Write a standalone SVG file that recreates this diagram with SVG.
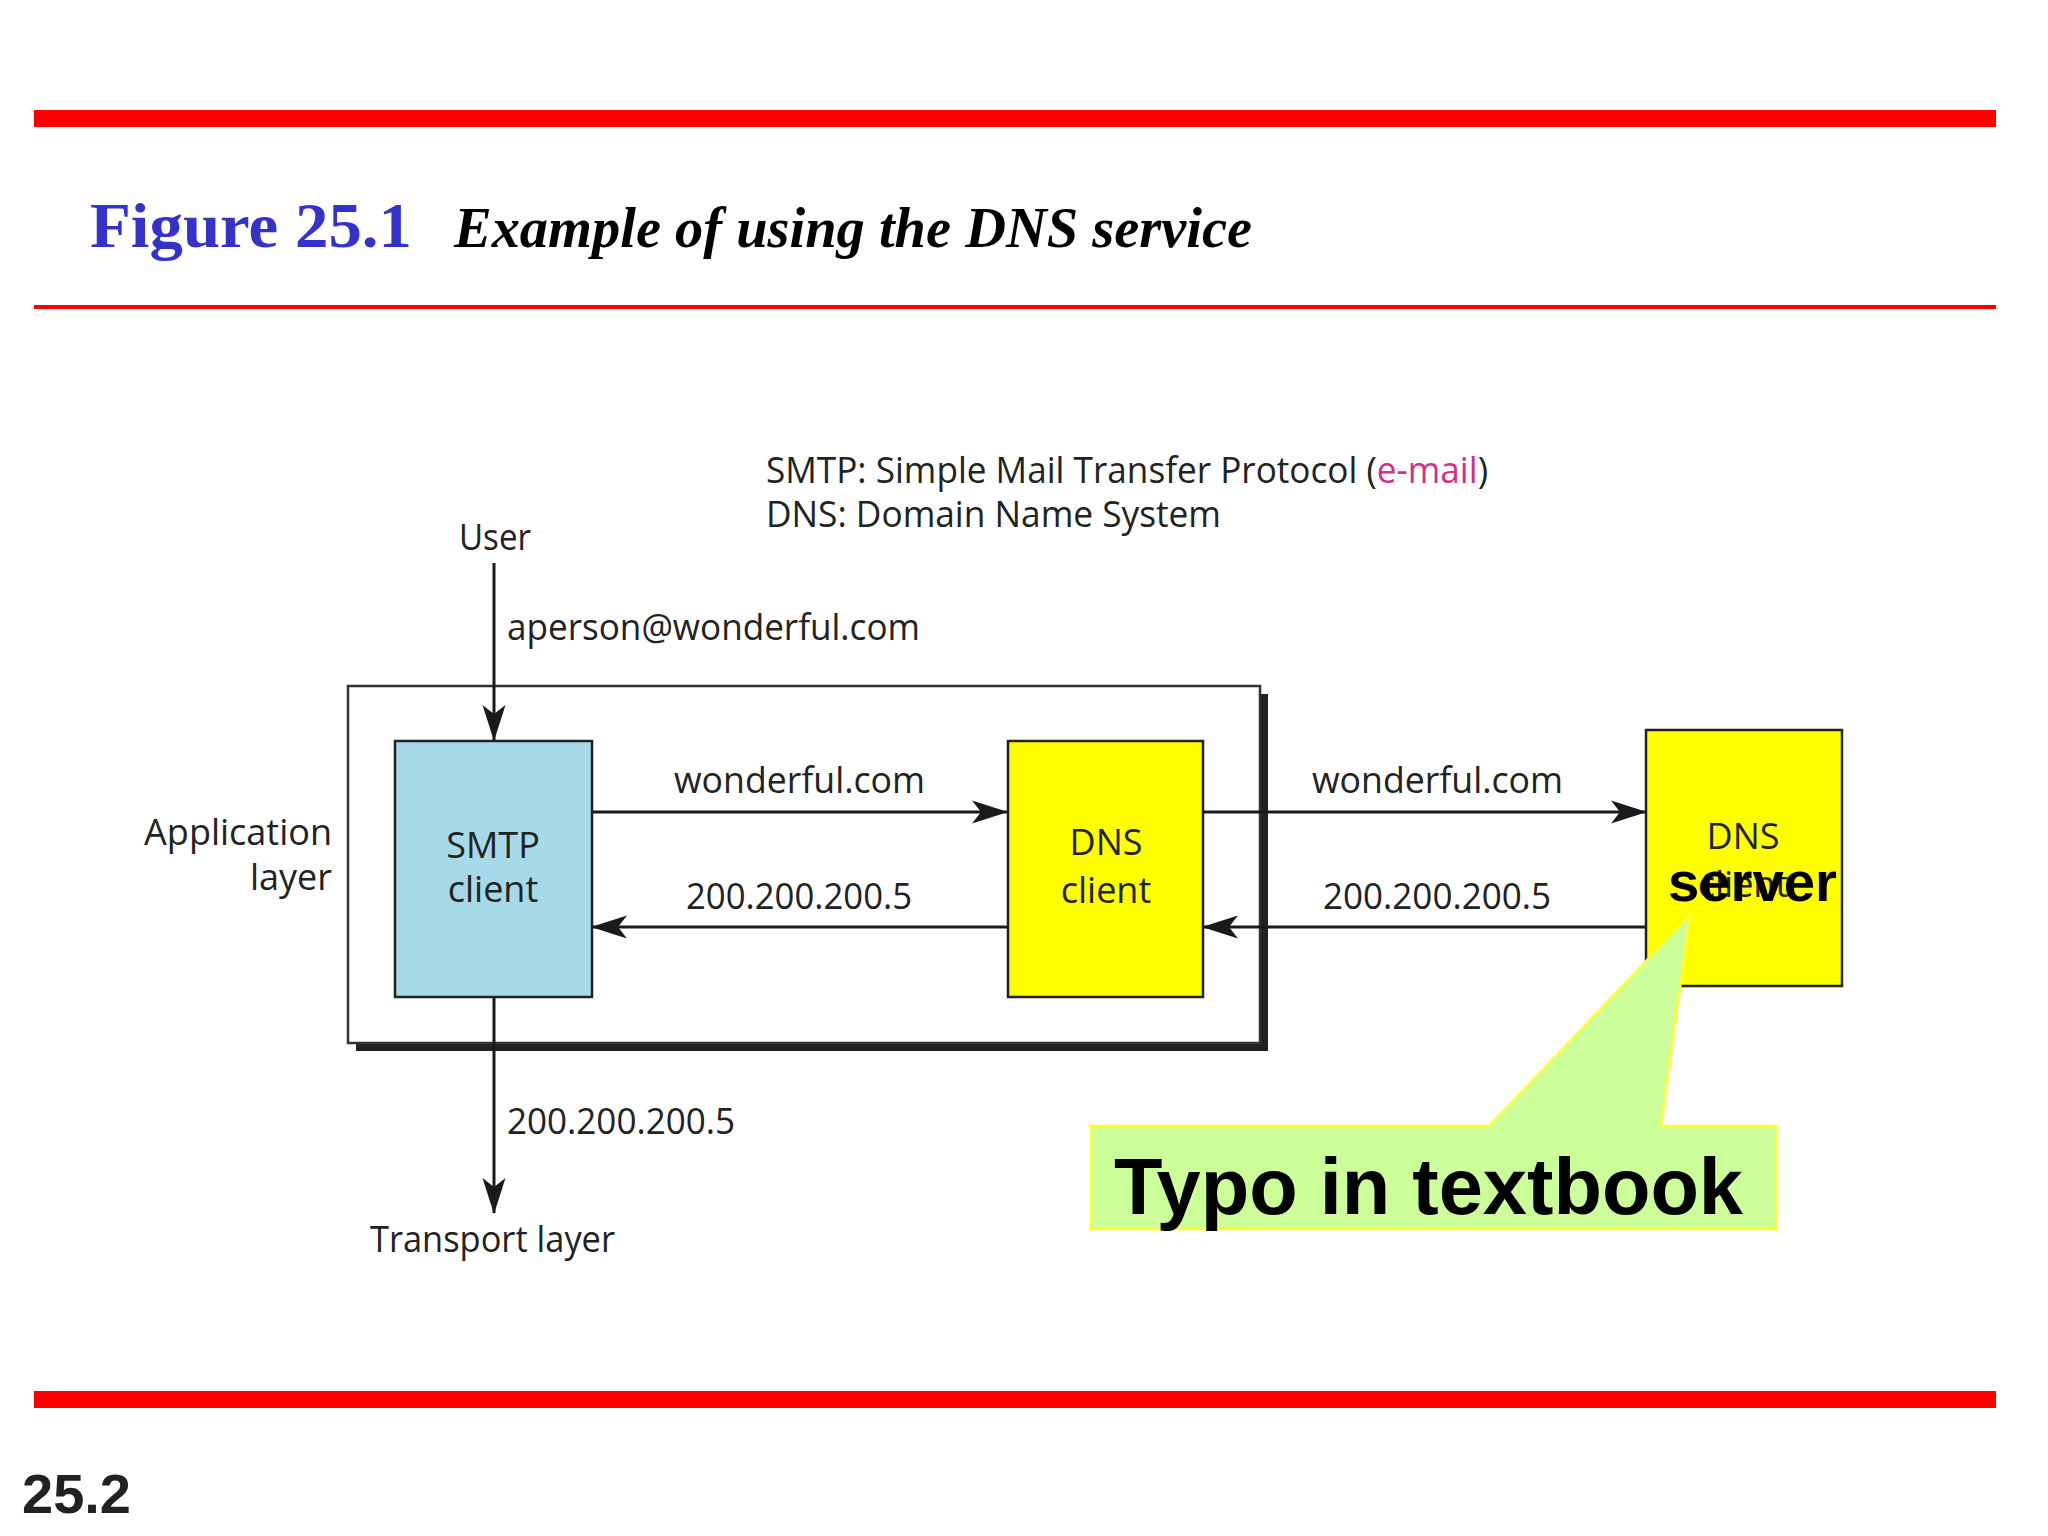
<svg xmlns="http://www.w3.org/2000/svg" width="2048" height="1536" viewBox="0 0 2048 1536">
<defs>
<style>
.lbl{font-family:"Open Sans","Liberation Sans",sans-serif;font-size:36px;fill:#222;}
.box{stroke:#222;stroke-width:2.5;}
.wire{stroke:#1a1a1a;stroke-width:3;fill:none;marker-end:url(#arrow);}
.red{fill:#FF0000;}
</style>
<marker id="arrow" markerUnits="userSpaceOnUse" markerWidth="36" markerHeight="24" viewBox="0 0 36 24" refX="35" refY="12" orient="auto">
<path d="M36,12 L0,0.5 L9,12 L0,23.5 Z" fill="#1a1a1a"/>
</marker>
</defs>
<rect width="2048" height="1536" fill="#FFFFFF"/>

<g id="header">
<rect class="red" x="34" y="110" width="1962" height="17"/>
<text x="90" y="247" font-family="'Liberation Serif',serif" font-weight="bold" font-size="64" fill="#3333CC" textLength="322" lengthAdjust="spacingAndGlyphs">Figure 25.1</text>
<text x="454" y="247" font-family="'Liberation Serif',serif" font-weight="bold" font-style="italic" font-size="57" fill="#000" textLength="798" lengthAdjust="spacingAndGlyphs">Example of using the DNS service</text>
<rect class="red" x="34" y="305" width="1962" height="4"/>
</g>

<g id="legend">
<text class="lbl" x="766" y="483" textLength="722" lengthAdjust="spacingAndGlyphs">SMTP: Simple Mail Transfer Protocol (<tspan fill="#D62E86">e-mail</tspan>)</text>
<text class="lbl" x="766" y="527" textLength="455" lengthAdjust="spacingAndGlyphs">DNS: Domain Name System</text>
</g>

<g id="application-layer">
<rect x="356" y="694" width="912" height="357" fill="#222"/>
<rect x="348" y="686" width="912" height="357" fill="#FFFFFF" stroke="#333" stroke-width="2.5"/>
<text class="lbl" x="332" y="845" text-anchor="end">Application</text>
<text class="lbl" x="332" y="890" text-anchor="end">layer</text>
</g>

<g id="user">
<text class="lbl" x="459" y="550" textLength="72" lengthAdjust="spacingAndGlyphs">User</text>
</g>

<g id="transport-layer">
<text class="lbl" x="370" y="1252" textLength="245" lengthAdjust="spacingAndGlyphs">Transport layer</text>
</g>

<g id="connectors">
<path class="wire" d="M494,563 L494,740"/>
<text class="lbl" x="507" y="640" textLength="413" lengthAdjust="spacingAndGlyphs">aperson@wonderful.com</text>
<path class="wire" d="M494,997 L494,1213"/>
<text class="lbl" x="507" y="1134" textLength="228" lengthAdjust="spacingAndGlyphs">200.200.200.5</text>
<path class="wire" d="M592,812 L1007,812"/>
<text class="lbl" x="674" y="793" textLength="251" lengthAdjust="spacingAndGlyphs">wonderful.com</text>
<path class="wire" d="M1007,927 L592,927"/>
<text class="lbl" x="686" y="909" textLength="226" lengthAdjust="spacingAndGlyphs">200.200.200.5</text>
<path class="wire" d="M1203,812 L1646,812"/>
<text class="lbl" x="1312" y="793" textLength="251" lengthAdjust="spacingAndGlyphs">wonderful.com</text>
<path class="wire" d="M1646,927 L1203,927"/>
<text class="lbl" x="1323" y="909" textLength="228" lengthAdjust="spacingAndGlyphs">200.200.200.5</text>
</g>

<g id="smtp-client">
<rect class="box" x="395" y="741" width="197" height="256" fill="#A6DAE8"/>
<text class="lbl" x="493" y="858" text-anchor="middle" fill="#15303C">SMTP</text>
<text class="lbl" x="493" y="902" text-anchor="middle" fill="#15303C">client</text>
</g>

<g id="dns-client">
<rect class="box" x="1008" y="741" width="195" height="256" fill="#FFFF00"/>
<text class="lbl" x="1106" y="855" text-anchor="middle">DNS</text>
<text class="lbl" x="1106" y="903" text-anchor="middle">client</text>
</g>

<g id="dns-server">
<rect class="box" x="1646" y="730" width="196" height="256" fill="#FFFF00"/>
<text class="lbl" x="1743" y="849" text-anchor="middle" fill="#333">DNS</text>
<text class="lbl" x="1743" y="897" text-anchor="middle" fill="#B8B040">client</text>
</g>

<g id="callout">
<polygon points="1091,1126 1489,1126 1690,915 1661,1126 1776,1126 1776,1229 1091,1229" fill="#CCFF99" stroke="#FFFF33" stroke-width="2.5"/>
<text x="1114" y="1214" font-family="'Liberation Sans',Arial,sans-serif" font-weight="bold" font-size="79" fill="#000" textLength="629" lengthAdjust="spacingAndGlyphs">Typo in textbook</text>
</g>

<g id="server-correction">
<text x="1668" y="901" font-family="'Liberation Sans',Arial,sans-serif" font-weight="bold" font-size="56" fill="#000" textLength="169" lengthAdjust="spacingAndGlyphs">server</text>
</g>

<g id="footer">
<rect class="red" x="34" y="1391" width="1962" height="17"/>
<text x="22" y="1513" font-family="'Liberation Sans',Arial,sans-serif" font-weight="bold" font-size="56" fill="#222">25.2</text>
</g>
</svg>
